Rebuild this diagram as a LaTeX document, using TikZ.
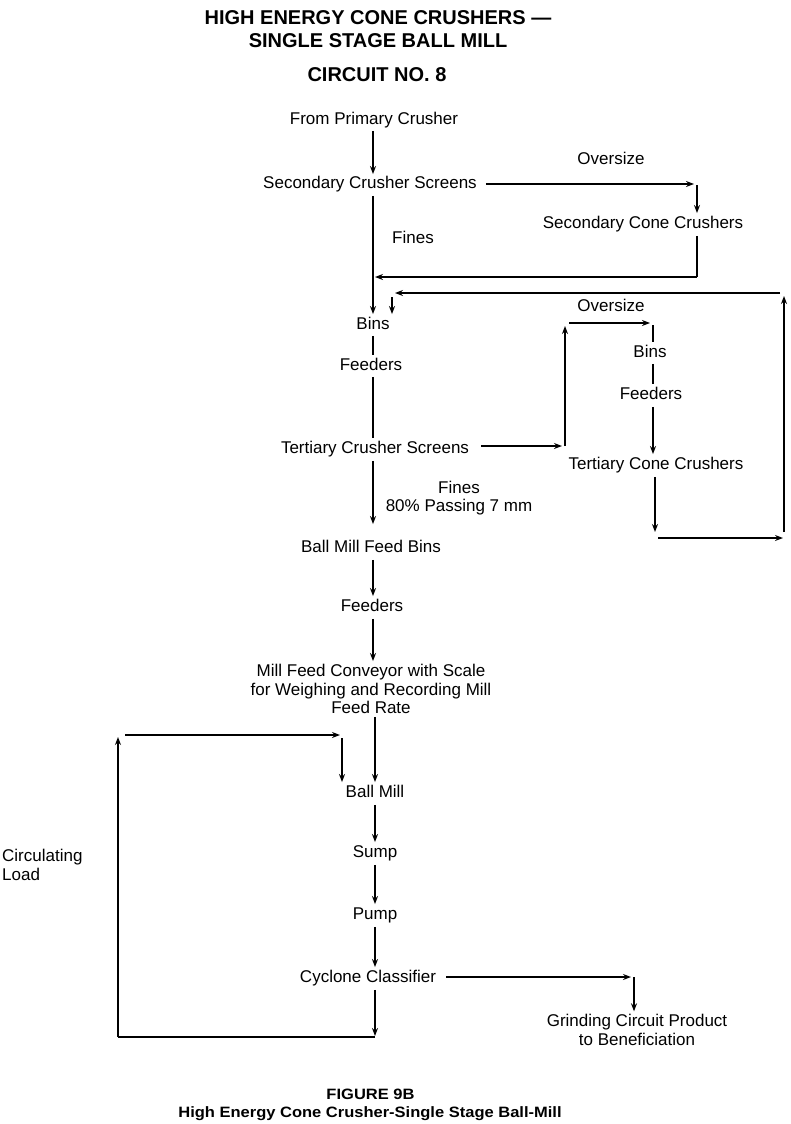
\documentclass[tikz,border=0pt]{standalone}
\usepackage{fontspec}
\setmainfont{Liberation Sans}
\usetikzlibrary{arrows.meta}
\begin{document}
\begin{tikzpicture}[x=1pt,y=-1pt,
  lbl/.style={font=\fontsize{17}{18.5}\selectfont, inner sep=0pt, text height=12pt, text depth=3.5pt},
  lblm/.style={font=\fontsize{17}{18.5}\selectfont, inner sep=0pt, align=center},
  ttl/.style={font=\bfseries\fontsize{20}{22}\selectfont, inner sep=0pt},
  capt/.style={font=\bfseries\fontsize{15}{16}\selectfont, inner sep=0pt, text height=10.7pt, text depth=3pt, xscale=1.1},
  ln/.style={line width=1.4pt},
  arr/.style={line width=1.4pt, -{Stealth[length=8pt,width=6pt]}}]
\useasboundingbox (0,0) rectangle (791,1124);
% titles
\node[ttl] (t1) at (378,18) {HIGH ENERGY CONE CRUSHERS —};
\node[ttl] (t2) at (378,41) {SINGLE STAGE BALL MILL};
\node[ttl] (t3) at (377,75) {CIRCUIT NO. 8};
% main column
\coordinate (c1) at (373,0);
\coordinate (c2) at (375,0);
\node[lbl] (fpc) at (374,120) {From Primary Crusher};
\node[lbl] (scs) at (370,184) {Secondary Crusher Screens};
\node[lbl] (ov1) at (611,160) {Oversize};
\node[lbl] (scc) at (643,224) {Secondary Cone Crushers};
\node[lbl] (fn1) at (413,239) {Fines};
\node[lbl] (bins) at (373,325) {Bins};
\node[lbl] (fd1) at (371,366) {Feeders};
\node[lbl] (tcs) at (375,449) {Tertiary Crusher Screens};
\node[lbl] (ov2) at (611,307) {Oversize};
\node[lbl] (bins2) at (650,353) {Bins};
\node[lbl] (fd2) at (651,395) {Feeders};
\node[lbl] (tcc) at (656,465) {Tertiary Cone Crushers};
\node[lblm] (fn2) at (459,498) {Fines\\80\% Passing 7 mm};
\node[lbl] (bmfb) at (371,548) {Ball Mill Feed Bins};
\node[lbl] (fd3) at (372,607) {Feeders};
\node[lblm] (mfc) at (371,689) {Mill Feed Conveyor with Scale\\for Weighing and Recording Mill\\Feed Rate};
\node[lbl] (bm) at (375,793) {Ball Mill};
\node[lbl] (sump) at (375,853) {Sump};
\node[lbl] (pump) at (375,915) {Pump};
\node[lbl] (cyc) at (368,978) {Cyclone Classifier};
\node[lblm] (gcp) at (637,1030) {Grinding Circuit Product\\to Beneficiation};
\node[lblm, align=left, anchor=west] (cl) at (2,865) {Circulating\\Load};
\node[capt] (f1) at (370.5,1095.2) {FIGURE 9B};
\node[capt] (f2) at (370,1113.2) {High Energy Cone Crusher-Single Stage Ball-Mill};
% corner coordinates
\coordinate (k1) at (697,184);
\coordinate (k2) at (697,277);
\coordinate (r1) at (655,538);
\coordinate (r2) at (784,538);
\coordinate (r3) at (784,293);
\coordinate (r4) at (392,293);
\coordinate (s1) at (565,446);
\coordinate (s2) at (565,323);
\coordinate (s3) at (653,323);
\coordinate (q1) at (375,1037);
\coordinate (q2) at (118,1037);
\coordinate (q3) at (118,735);
\coordinate (q4) at (342,735);
\coordinate (g1) at (634,977);
% main column connectors
\draw[arr] ([yshift=-3pt]fpc.south -| c1) -- ([yshift=2pt]scs.north -| c1);
\draw[arr] ([yshift=-4pt]scs.south -| c1) -- ([yshift=3pt]bins.north -| c1);
\draw[ln] ([yshift=-3pt]bins.south -| c1) -- ([yshift=3pt]fd1.north -| c1);
\draw[ln] ([yshift=-3pt]fd1.south -| c1) -- ([yshift=3pt]tcs.north -| c1);
\draw[arr] ([yshift=-4pt]tcs.south -| c1) -- ([yshift=16pt]bmfb.north -| c1);
\draw[arr] ([yshift=-4pt]bmfb.south -| c1) -- ([yshift=3pt]fd3.north -| c1);
\draw[arr] ([yshift=-4pt]fd3.south -| c1) -- ([yshift=3pt]mfc.north -| c1);
\draw[arr] ([yshift=-3pt]mfc.south -| c2) -- ([yshift=3pt]bm.north -| c2);
\draw[arr] ([yshift=-4pt]bm.south -| c2) -- ([yshift=3pt]sump.north -| c2);
\draw[arr] ([yshift=-4pt]sump.south -| c2) -- ([yshift=3pt]pump.north -| c2);
\draw[arr] ([yshift=-4pt]pump.south -| c2) -- ([yshift=3pt]cyc.north -| c2);
% secondary loop
\draw[arr] ([xshift=9pt]scs.east) -- ([xshift=-3pt]k1);
\draw[arr] ([yshift=-1pt]k1) -- ([yshift=3pt]scc.north -| k1);
\draw[ln] ([yshift=-4pt]scc.south -| k1) -- (k2);
\draw[arr] (k2) -- ([xshift=2pt]k2 -| c1);
% tertiary loop
\draw[arr] ([xshift=12pt]tcs.east |- s1) -- ([xshift=-3pt]s1);
\draw[arr] (s1) -- ([yshift=-3pt]s2);
\draw[arr] ([xshift=4pt]s2) -- ([xshift=-3pt]s3);
\draw[ln] ([yshift=-2pt]s3) -- ([yshift=3pt]bins2.north -| s3);
\draw[ln] ([yshift=-3pt]bins2.south -| s3) -- ([yshift=3pt]fd2.north -| s3);
\draw[arr] ([yshift=-4pt]fd2.south -| s3) -- ([yshift=3pt]tcc.north -| s3);
\draw[arr] ([yshift=-4pt]tcc.south -| r1) -- ([yshift=6pt]r1);
\draw[arr] ([xshift=3pt]r1) -- ([xshift=-1pt]r2);
\draw[arr] ([yshift=6pt]r2) -- ([yshift=-3pt]r3);
\draw[arr] ([xshift=-4pt]r3) -- ([xshift=3pt]r4);
\draw[arr] ([yshift=-4pt]r4) -- ([yshift=3pt]bins.north -| r4);
% grinding circuit
\draw[arr] ([xshift=10pt]cyc.east |- g1) -- ([xshift=-3pt]g1);
\draw[arr] (g1) -- ([yshift=3pt]gcp.north -| g1);
\draw[arr] ([yshift=-4pt]cyc.south -| c2) -- ([yshift=1pt]q1);
\draw[ln] (q1) -- (q2);
\draw[arr] (q2) -- ([yshift=-2pt]q3);
\draw[arr] ([xshift=7pt]q3) -- ([xshift=-2pt]q4);
\draw[arr] ([yshift=-3pt]q4) -- ([yshift=3pt]bm.north -| q4);
\end{tikzpicture}
\end{document}
